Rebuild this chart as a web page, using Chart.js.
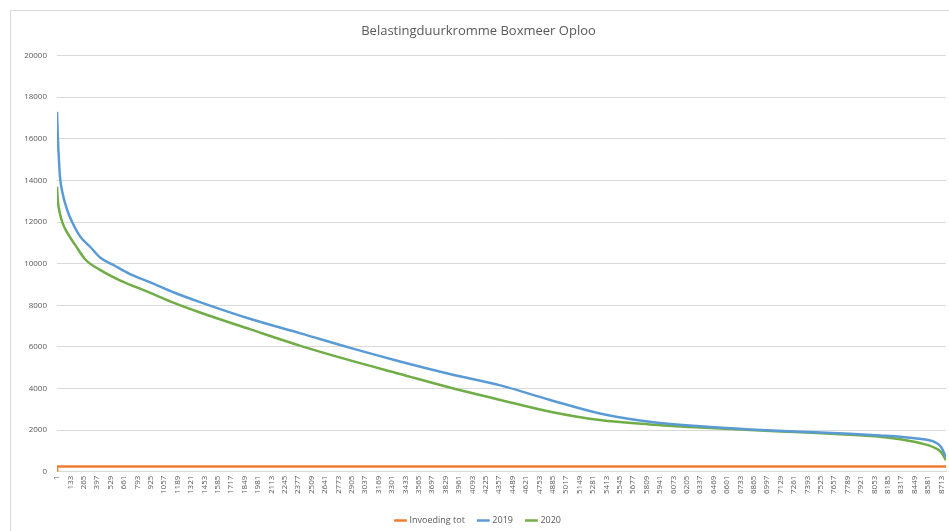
<!DOCTYPE html>
<html>
<head>
<meta charset="utf-8">
<script src="https://cdn.jsdelivr.net/npm/chart.js@4/dist/chart.umd.min.js"></script>
<style>
  html, body { margin: 0; padding: 0; background: #fff; overflow: hidden; width: 949px; height: 531px; }
  #frame { position: absolute; left: 10px; top: 10px; width: 956px; height: 530px; border: 1px solid #d9d9d9; box-sizing: border-box; }
  #chart { display: block; }
</style>
</head>
<body>
<div id="frame"><canvas id="chart" width="954" height="528"></canvas></div>
<script>
// Hour-of-year labels shown on the horizontal axis (every 132 hours)
const hourTicks = [1,133,265,397,529,661,793,925,1057,1189,1321,1453,1585,1717,1849,1981,2113,2245,2377,2509,2641,2773,2905,3037,3169,3301,3433,3565,3697,3829,3961,4093,4225,4357,4489,4621,4753,4885,5017,5149,5281,5413,5545,5677,5809,5941,6073,6205,6337,6469,6601,6733,6865,6997,7129,7261,7393,7525,7657,7789,7921,8053,8185,8317,8449,8581,8713];

// Sorted load duration curve 2019 (hour rank, load)
const hours2019 = [1,10,20,30,60,100,150,230,330,425,570,720,920,1160,1410,1900,2400,2890,3380,3870,4370,4860,5350,5840,6340,6830,7320,7810,8110,8310,8500,8650,8710,8760];
const load2019  = [17300,16000,15000,14200,13300,12600,12000,11300,10800,10300,9900,9500,9100,8600,8150,7350,6650,5950,5300,4700,4150,3450,2800,2400,2180,2030,1920,1820,1740,1680,1580,1420,1200,700];

// Sorted load duration curve 2020 (hour rank, load)
const hours2020 = [1,10,30,60,100,180,280,425,620,920,1160,1410,1900,2400,2890,3380,3870,4370,4860,5350,5840,6340,6830,7320,7810,8110,8310,8500,8650,8710,8760];
const load2020  = [13700,13000,12400,11900,11500,10900,10200,9700,9200,8600,8100,7650,6850,6050,5350,4700,4050,3450,2880,2480,2270,2120,2000,1900,1780,1680,1560,1380,1150,950,550];

// Feed-in limit
const hoursFeedIn = [1,2,8760];
const loadFeedIn  = [0,250,250];

// Y axis ticks
const loadTicks = [0,2000,4000,6000,8000,10000,12000,14000,16000,18000,20000];

const pairs = (xs, ys) => xs.map((x, i) => ({ x: x, y: ys[i] }));

const labelColor = '#595959';
const gridColor = '#d9d9d9';
const FONT = '"Open Sans", "Liberation Sans", sans-serif';

new Chart(document.getElementById('chart'), {
  type: 'line',
  data: {
    datasets: [
      { label: 'Invoeding tot', data: pairs(hoursFeedIn, loadFeedIn), borderColor: '#ED7D31', backgroundColor: '#ED7D31', borderWidth: 2.5, pointRadius: 0, tension: 0 },
      { label: '2019', data: pairs(hours2019, load2019), borderColor: '#5B9BD5', backgroundColor: '#5B9BD5', borderWidth: 2.5, pointRadius: 0, cubicInterpolationMode: 'monotone' },
      { label: '2020', data: pairs(hours2020, load2020), borderColor: '#70AD47', backgroundColor: '#70AD47', borderWidth: 2.5, pointRadius: 0, cubicInterpolationMode: 'monotone' }
    ]
  },
  options: {
    responsive: false,
    animation: false,
    layout: { padding: { left: 0, right: 19, top: 0, bottom: 4 } },
    plugins: {
      title: {
        display: true,
        text: 'Belastingduurkromme Boxmeer Oploo',
        color: labelColor,
        font: { family: FONT, size: 13, weight: 'normal' },
        padding: { top: 12, bottom: 17 }
      },
      legend: {
        position: 'bottom',
        labels: {
          color: labelColor,
          font: { family: FONT, size: 9 },
          usePointStyle: true,
          pointStyle: 'line',
          boxWidth: 30,
          padding: 14
        }
      },
      tooltip: { enabled: false }
    },
    scales: {
      x: {
        type: 'linear',
        min: 1,
        max: 8760,
        afterBuildTicks: (axis) => { axis.ticks = hourTicks.map(v => ({ value: v })); },
        afterFit: (axis) => { axis.height += 4; },
        ticks: {
          autoSkip: false,
          minRotation: 90,
          maxRotation: 90,
          color: labelColor,
          font: { family: FONT, size: 8 },
          padding: 4,
          callback: (v) => String(v)
        },
        grid: { display: false, drawTicks: false },
        border: { display: true, color: gridColor }
      },
      y: {
        min: 0,
        max: 20000,
        afterBuildTicks: (axis) => { axis.ticks = loadTicks.map(v => ({ value: v })); },
        afterFit: (axis) => { axis.width = 46; },
        ticks: {
          color: labelColor,
          font: { family: FONT, size: 8 },
          padding: 10,
          callback: (v) => String(v)
        },
        grid: { color: gridColor, drawTicks: false },
        border: { display: false }
      }
    }
  }
});
</script>
</body>
</html>
